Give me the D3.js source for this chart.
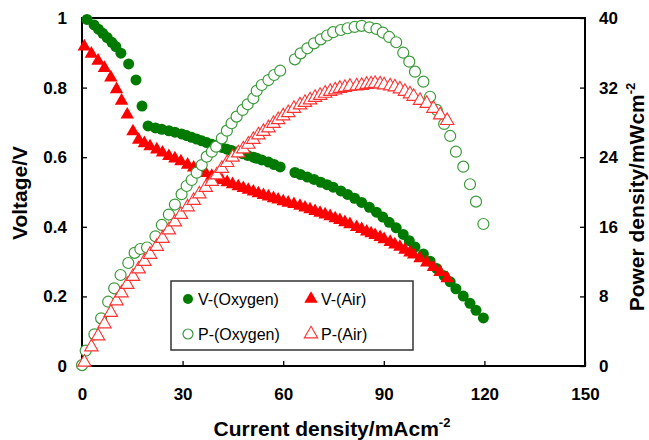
<!DOCTYPE html>
<html>
<head>
<meta charset="utf-8">
<script src="https://cdn.jsdelivr.net/npm/d3@7"></script>
<style>
  html, body { margin: 0; padding: 0; background: #fff; }
  svg { display: block; }
  text { font-family: Arial, "Liberation Sans", Helvetica, sans-serif; }
</style>
</head>
<body>
<svg id="chart" width="649" height="440"></svg>
<script>
// ---------------- data ----------------
const xTicks = [0, 30, 60, 90, 120, 150];
const vTicks = [0, 0.2, 0.4, 0.6, 0.8, 1];
const vTickLabels = ["0", "0.2", "0.4", "0.6", "0.8", "1"];
const pTicks = [0, 8, 16, 24, 32, 40];

// V-(Oxygen): current density (mA/cm2) and voltage (V)
const vOxyCurrent = [1.5, 3.6, 4.9, 6.2, 7.5, 8.9, 10.1, 11.6, 13.9, 16.1, 17.9, 19.7,
  21.9, 23.8, 25.9, 27.7, 29.7, 31.2, 32.7, 34.2, 35.7, 37.2, 38.7, 40.0, 41.7, 43.2,
  44.6, 46.1, 47.9, 49.4, 51.1, 52.1, 53.6, 55.6, 57.3, 59.1, 63.5, 65.2, 67.2, 69.2,
  71.2, 73.1, 74.9, 77.2, 79.2, 81.3, 83.4, 85.7, 87.8, 89.7, 91.6, 93.7, 95.8, 97.6,
  99.3, 101.8, 103.8, 105.8, 108.0, 109.8, 111.5, 113.7, 115.7, 117.5, 119.7];
const vOxyVoltage = [0.996, 0.980, 0.968, 0.956, 0.944, 0.930, 0.918, 0.899, 0.868, 0.822, 0.747, 0.690,
  0.684, 0.680, 0.676, 0.672, 0.667, 0.662, 0.657, 0.652, 0.647, 0.642, 0.637, 0.633, 0.628, 0.623,
  0.619, 0.615, 0.610, 0.605, 0.600, 0.597, 0.592, 0.586, 0.579, 0.572, 0.556, 0.550, 0.543, 0.536,
  0.528, 0.521, 0.514, 0.503, 0.493, 0.482, 0.470, 0.456, 0.442, 0.428, 0.413, 0.397, 0.378, 0.360,
  0.342, 0.322, 0.301, 0.280, 0.259, 0.242, 0.222, 0.201, 0.180, 0.160, 0.138];

// P-(Oxygen): current density and power density (mW/cm2)
const pOxyCurrent = [0, 1.1, 3.7, 5.7, 7.8, 9.6, 11.5, 13.8, 15.7, 17.4, 19.4, 21.9, 23.8,
  25.9, 27.7, 29.7, 31.2, 32.7, 34.2, 35.7, 37.2, 38.7, 40.0, 41.7, 43.2, 44.6, 46.1,
  47.9, 49.4, 51.1, 52.1, 53.6, 55.6, 57.3, 59.1, 63.5, 65.2, 67.2, 69.2, 71.2, 73.1,
  74.9, 77.2, 79.2, 81.3, 83.4, 85.7, 87.8, 89.7, 91.6, 93.7, 95.8, 97.6, 99.3, 101.8,
  103.8, 105.8, 108.0, 109.8, 111.5, 113.7, 115.7, 117.5, 119.7];
const pOxyPower = [0.1, 1.76, 3.64, 5.48, 7.39, 8.93, 10.46, 11.84, 13.01, 13.45, 13.62, 14.91, 16.21,
  17.41, 18.56, 19.75, 20.69, 21.38, 22.22, 23.10, 24.06, 24.63, 25.21, 26.17, 27.05, 27.90, 28.66,
  29.43, 30.08, 30.77, 31.64, 32.30, 32.87, 33.45, 33.94, 35.25, 35.94, 36.52, 37.09, 37.55, 37.99,
  38.37, 38.62, 38.82, 38.97, 39.10, 38.93, 38.74, 38.33, 37.82, 37.21, 36.01, 34.98, 33.83, 32.68,
  30.95, 29.43, 27.82, 26.44, 24.63, 22.91, 20.89, 18.89, 16.32];

// Air: shared current densities for V-(Air) and P-(Air)
const airCurrent = [0.7, 2.8, 4.8, 6.7, 8.6, 10.3, 11.8, 13.5, 15.2, 16.9, 18.6, 20.3, 22.3,
  24.0, 25.9, 27.7, 29.5, 31.5, 33.3, 35.0, 36.9, 38.7, 40.2, 41.7, 43.3, 44.9, 46.6, 48.1,
  49.6, 51.1, 52.6, 54.1, 55.6, 57.1, 58.5, 60.0, 61.5, 63.2, 65.0, 66.5, 68.0, 69.5, 71.0,
  72.5, 74.0, 75.5, 76.9, 78.4, 79.9, 81.9, 83.4, 84.9, 86.2, 87.4, 88.9, 90.1, 91.9, 93.3,
  94.8, 96.3, 97.8, 98.9, 100.8, 102.8, 104.8, 106.8, 108.9];
const vAirVoltage = [0.918, 0.897, 0.877, 0.856, 0.829, 0.795, 0.762, 0.722, 0.674, 0.650, 0.640, 0.631, 0.622,
  0.613, 0.603, 0.596, 0.588, 0.578, 0.570, 0.562, 0.554, 0.546, 0.540, 0.534, 0.528, 0.522, 0.516, 0.511,
  0.506, 0.501, 0.496, 0.491, 0.487, 0.482, 0.478, 0.473, 0.469, 0.465, 0.460, 0.455, 0.450, 0.445, 0.440,
  0.435, 0.430, 0.424, 0.419, 0.413, 0.407, 0.399, 0.393, 0.386, 0.381, 0.376, 0.370, 0.364, 0.356, 0.349,
  0.342, 0.334, 0.326, 0.320, 0.309, 0.297, 0.284, 0.270, 0.252];
const pAirPower = [0.43, 2.18, 3.45, 4.83, 6.15, 7.47, 8.39, 9.37, 10.29, 11.15, 12.01, 12.82, 13.74,
  14.66, 15.63, 16.55, 17.41, 18.28, 19.02, 19.77, 20.52, 21.21, 21.95, 22.70, 23.37, 23.99, 24.48, 24.94,
  25.48, 26.03, 26.55, 26.95, 27.36, 27.87, 28.30, 28.74, 29.11, 29.60, 30.00, 30.29, 30.57, 30.86, 31.09,
  31.34, 31.55, 31.72, 31.90, 32.01, 32.13, 32.18, 32.24, 32.36, 32.41, 32.47, 32.41, 32.30, 32.18, 32.07,
  31.84, 31.55, 31.26, 30.98, 30.52, 30.17, 29.60, 28.85, 28.20];

const legendLabels = ["V-(Oxygen)", "V-(Air)", "P-(Oxygen)", "P-(Air)"];

// ---------------- layout ----------------
const svg = d3.select("#chart");
const L = 82, R = 585, T = 18, B = 366;

const x = d3.scaleLinear().domain([0, 150]).range([L, R]);
const yV = d3.scaleLinear().domain([0, 1]).range([B, T]);
const yP = d3.scaleLinear().domain([0, 40]).range([B, T]);

const GREEN = "#007a00";
const GREEN_OPEN = "#3a9a3a";
const RED = "#ff0000";
const RED_OPEN = "#ff3030";

const R_DOT = 5.5;
const triSize = 78;
const tri = d3.symbol().type(d3.symbolTriangle).size(triSize);

// axes
const axisFont = "bold 17px Arial, 'Liberation Sans', sans-serif";
const bottomAxis = d3.axisBottom(x).tickValues(xTicks).tickSizeInner(-5).tickSizeOuter(0).tickPadding(22);
const leftAxis = d3.axisLeft(yV).tickValues(vTicks).tickFormat((d, i) => vTickLabels[i]).tickSizeInner(-5).tickSizeOuter(0).tickPadding(15);
const rightAxis = d3.axisRight(yP).tickValues(pTicks).tickSizeInner(-5).tickSizeOuter(0).tickPadding(14);

function styleAxis(g) {
  g.select(".domain").remove();
  g.selectAll(".tick line").attr("stroke", "#000").attr("stroke-width", 1.3);
  g.selectAll(".tick text").style("font", axisFont).attr("fill", "#000");
}
svg.append("g").attr("transform", `translate(0,${B})`).call(bottomAxis).call(styleAxis);
svg.append("g").attr("transform", `translate(${L},0)`).call(leftAxis).call(styleAxis);
svg.append("g").attr("transform", `translate(${R},0)`).call(rightAxis).call(styleAxis);

// frame
svg.append("rect").attr("x", L).attr("y", T).attr("width", R - L).attr("height", B - T)
  .attr("fill", "none").attr("stroke", "#000").attr("stroke-width", 2);

// series
const vOxy = vOxyCurrent.map((c, i) => [c, vOxyVoltage[i]]);
const pOxy = pOxyCurrent.map((c, i) => [c, pOxyPower[i]]);
const vAir = airCurrent.map((c, i) => [c, vAirVoltage[i]]);
const pAir = airCurrent.map((c, i) => [c, pAirPower[i]]);

svg.append("g").selectAll("circle").data(vOxy).join("circle")
  .attr("cx", d => x(d[0])).attr("cy", d => yV(d[1])).attr("r", R_DOT)
  .attr("fill", GREEN);

svg.append("g").selectAll("path").data(vAir).join("path")
  .attr("transform", d => `translate(${x(d[0])},${yV(d[1])})`)
  .attr("d", tri).attr("fill", RED);

svg.append("g").selectAll("circle").data(pOxy).join("circle")
  .attr("cx", d => x(d[0])).attr("cy", d => yP(d[1])).attr("r", R_DOT)
  .attr("fill", "#fff").attr("stroke", GREEN_OPEN).attr("stroke-width", 1.2);

svg.append("g").selectAll("path").data(pAir).join("path")
  .attr("transform", d => `translate(${x(d[0])},${yP(d[1])})`)
  .attr("d", tri).attr("fill", "#fff").attr("stroke", RED_OPEN).attr("stroke-width", 1.1);

// legend
const lg = svg.append("g");
lg.append("rect").attr("x", 171).attr("y", 281).attr("width", 242).attr("height", 69)
  .attr("fill", "#fff").attr("stroke", "#333").attr("stroke-width", 1.5);
const legendItems = [
  { label: legendLabels[0], mx: 188, my: 299, kind: "fc" },
  { label: legendLabels[1], mx: 311, my: 299, kind: "ft" },
  { label: legendLabels[2], mx: 188, my: 334, kind: "oc" },
  { label: legendLabels[3], mx: 311, my: 334, kind: "ot" }
];
legendItems.forEach(it => {
  if (it.kind === "fc") lg.append("circle").attr("cx", it.mx).attr("cy", it.my).attr("r", 5).attr("fill", GREEN);
  if (it.kind === "oc") lg.append("circle").attr("cx", it.mx).attr("cy", it.my).attr("r", 5).attr("fill", "#fff").attr("stroke", GREEN_OPEN).attr("stroke-width", 1.2);
  if (it.kind === "ft") lg.append("path").attr("transform", `translate(${it.mx},${it.my})`).attr("d", tri).attr("fill", RED);
  if (it.kind === "ot") lg.append("path").attr("transform", `translate(${it.mx},${it.my})`).attr("d", tri).attr("fill", "#fff").attr("stroke", RED_OPEN).attr("stroke-width", 1.1);
  lg.append("text").attr("x", it.mx + 10).attr("y", it.my).attr("dominant-baseline", "central")
    .style("font", "16px Arial, 'Liberation Sans', sans-serif").attr("fill", "#000").text(it.label);
});

// axis titles
const titleFont = "bold 21px Arial, 'Liberation Sans', sans-serif";
const xt = svg.append("text").attr("x", 332).attr("y", 436).attr("text-anchor", "middle")
  .style("font", titleFont).attr("fill", "#000");
xt.append("tspan").text("Current density/mAcm");
xt.append("tspan").attr("dy", -9).style("font-size", "13px").text("-2");

svg.append("text").attr("transform", "translate(27,193) rotate(-90)").attr("text-anchor", "middle")
  .style("font", titleFont).attr("fill", "#000").text("Voltage/V");

const yt = svg.append("text").attr("transform", "translate(644,197) rotate(-90)").attr("text-anchor", "middle")
  .style("font", titleFont).attr("fill", "#000");
yt.append("tspan").text("Power density/mWcm");
yt.append("tspan").attr("dy", -9).style("font-size", "13px").text("-2");
</script>
</body>
</html>
